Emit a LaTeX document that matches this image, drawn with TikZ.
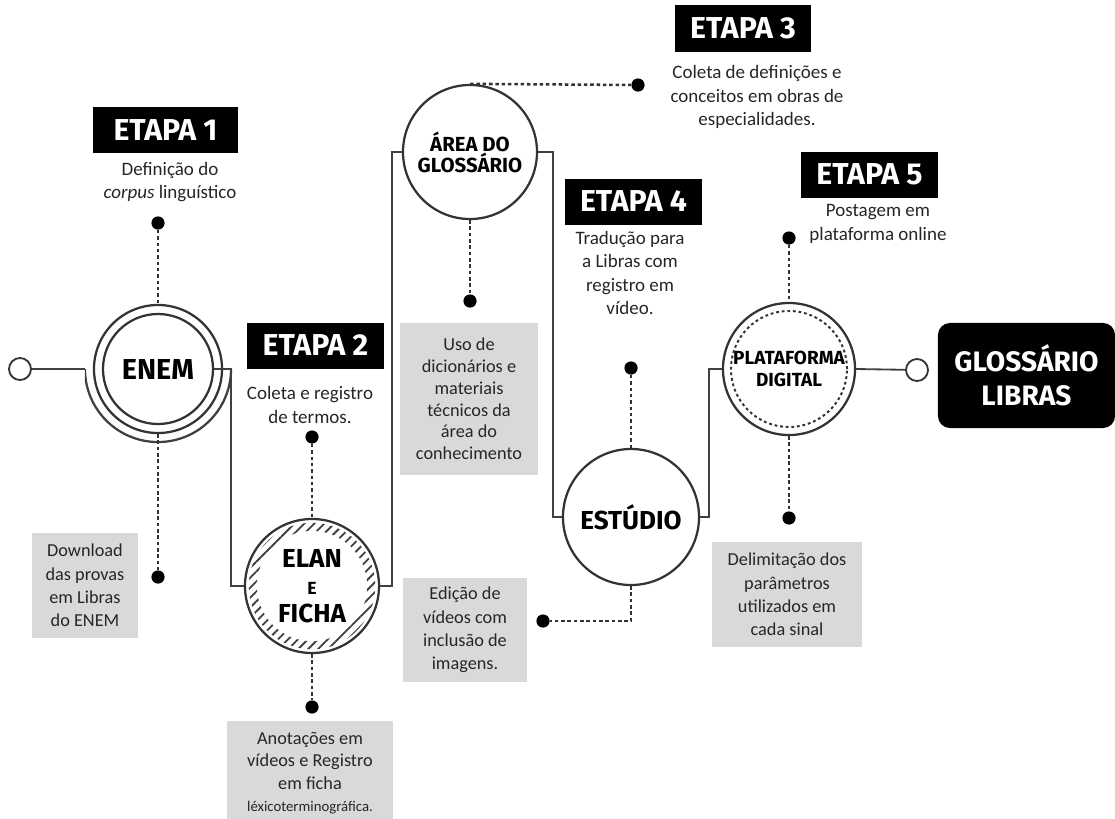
\documentclass[tikz,border=0pt]{standalone}
\usepackage{fontspec}
\setmainfont{Carlito}
\newfontfamily\headfont{Fira Sans}
\usetikzlibrary{positioning,patterns.meta}

\begin{document}
\begin{tikzpicture}[
  x=0.025cm, y=-0.025cm,
  stage/.style={fill=black, text=white, font=\headfont\bfseries\fontsize{21.5}{23}\selectfont, minimum width=3.4cm, minimum height=1.15cm, inner sep=0pt},
  desc/.style={align=center, font=\fontsize{13.5}{16.5}\selectfont, text=black!85},
  note/.style={fill=black!15, align=center, font=\fontsize{13}{16.5}\selectfont, text=black!85, inner sep=0pt},
  hub/.style={circle, draw=black!80, line width=1.6pt, fill=white, align=center, font=\headfont\bfseries, inner sep=0pt},
  ring/.style={circle, draw=black!80, line width=1.6pt, inner sep=0pt},
  dot/.style={circle, fill=black, minimum size=0.33cm, inner sep=0pt},
  port/.style={circle, draw=black!80, line width=1.3pt, fill=white, minimum size=0.55cm, inner sep=0pt},
  wire/.style={draw=black!75, line width=1.3pt},
  guide/.style={draw=black!80, line width=1.8pt, dash pattern=on 2.5pt off 2pt}
]
\useasboundingbox (0,0) rectangle (1115,818);

% hubs along the main line
\node[port] (start) at (20,369) {};
\node[hub, minimum size=3.2cm, font=\headfont\bfseries\fontsize{20.5}{22}\selectfont] (enem) at (158,369) {ENEM};
\node[ring, minimum size=2.75cm] (enemin) at (enem) {};
\coordinate (enemL) at ([xshift=-1.825cm]enem.center);
\coordinate (enemR) at ([xshift=1.825cm]enem.center);
\begin{scope}
  \clip (enemL) rectangle ++(4cm,-3cm);
  \draw[wire, line width=1.6pt] (enem.center) circle[radius=1.825cm];
\end{scope}

\node[hub, minimum size=3.35cm, font=\headfont\bfseries\fontsize{18.5}{19.5}\selectfont] (elan) at (312,586)
  {ELAN\\{\fontsize{12.5}{13}\selectfont E}\\FICHA};
\fill[pattern={Lines[angle=45, distance=5pt, line width=1.3pt]}, pattern color=black!75, even odd rule]
  (elan.center) circle[radius=1.58cm] circle[radius=1.38cm];

\node[hub, minimum size=3.35cm, font=\headfont\bfseries\fontsize{14.5}{15}\selectfont] (area) at (470,152) {ÁREA DO\\GLOSSÁRIO};
\node[hub, minimum size=3.4cm, font=\headfont\bfseries\fontsize{18.5}{20}\selectfont] (estudio) at (631,517) {ESTÚDIO};
\node[hub, minimum size=3.3cm, font=\headfont\bfseries\fontsize{13.5}{15.5}\selectfont] (plat) at (789,369) {PLATAFORMA\\DIGITAL};
\node[ring, line width=1.4pt, dash pattern=on 2pt off 2pt, minimum size=2.9cm] (platin) at (plat) {};
\node[port] (end) at (917,370) {};
\node[fill=black, rounded corners=0.3cm, minimum width=4.425cm, minimum height=2.625cm, text=white, align=center,
  font=\headfont\bfseries\fontsize{20}{24}\selectfont] (gloss) at (1026.5,375.5) {GLOSSÁRIO\\LIBRAS};

\draw[wire] (start) -- (enemL);
\draw[wire] (enemin.east) -- (enemR) |- (elan.west);
\draw[wire] (elan.east) -- ++(0.3cm,0) |- (area.west);
\draw[wire] (area.east) -- ++(0.375cm,0) |- (estudio.west);
\draw[wire] (estudio.east) -- ++(0.225cm,0) |- (plat.west);
\draw[wire] (plat.east) -- (end);

% stages
\node[stage, minimum width=3.6cm] (etapa1) at (165.5,130) {ETAPA 1};
\node[desc] (desc1) at (170,182) {Definição do\\\textit{corpus} linguístico};
\node[stage] (etapa2) at (315.5,345.5) {ETAPA 2};
\node[desc] (desc2) at (310,405) {Coleta e registro\\de termos.};
\node[stage] (etapa3) at (743,28.5) {ETAPA 3};
\node[desc] (desc3) at (757,97) {Coleta de definições e\\conceitos em obras de\\especialidades.};
\node[stage] (etapa4) at (633.5,201.5) {ETAPA 4};
\node[desc] (desc4) at (630,273) {Tradução para\\a Libras com\\registro em\\vídeo.};
\node[stage] (etapa5) at (869.5,174.5) {ETAPA 5};
\node[desc] (desc5) at (878,224) {Postagem em\\plataforma online};

% notes
\node[note, minimum width=2.65cm, minimum height=2.625cm] (note1) at (85,585.5) {Download\\das provas\\em Libras\\do ENEM};
\node[note, minimum width=4.15cm, minimum height=2.6cm, font=\fontsize{13}{16}\selectfont] (note2) at (310,773)
  {Anotações em\\vídeos e Registro\\em ficha\\{\fontsize{10.5}{12}\selectfont léxicoterminográfica.}};
\node[note, minimum width=3.45cm, minimum height=3.8cm, font=\fontsize{13}{15.5}\selectfont] (note3) at (469,399)
  {Uso de\\dicionários e\\materiais\\técnicos da\\área do\\conhecimento};
\node[note, minimum width=3.1cm, minimum height=2.6cm] (note4) at (465,630) {Edição de\\vídeos com\\inclusão de\\imagens.};
\node[note, minimum width=3.75cm, minimum height=2.625cm] (note5) at (787,594.5) {Delimitação dos\\parâmetros\\utilizados em\\cada sinal};

% dotted guides
\node[dot] (d1) at (158,223) {};
\node[dot] (d1b) at (158,577) {};
\node[dot] (d2) at (312,437) {};
\node[dot] (d2b) at (312,707) {};
\node[dot] (d3) at (638,85) {};
\node[dot] (d3b) at (470,301) {};
\node[dot] (d4) at (631,368) {};
\node[dot] (d4b) at (543,621) {};
\node[dot] (d5) at (789,238) {};
\node[dot] (d5b) at (789,518) {};

\draw[guide] (d1) -- (enem.north);
\draw[guide] (enem.south) -- (d1b);
\draw[guide] (d2) -- (elan.north);
\draw[guide] (elan.south) -- (d2b);
\draw[guide] (area.north) -- (d3);
\draw[guide] (area.south) -- (d3b);
\draw[guide] (d4) -- (estudio.north);
\draw[guide] (estudio.south) |- (d4b);
\draw[guide] (d5) -- (plat.north);
\draw[guide] (plat.south) -- (d5b);

\end{tikzpicture}
\end{document}
